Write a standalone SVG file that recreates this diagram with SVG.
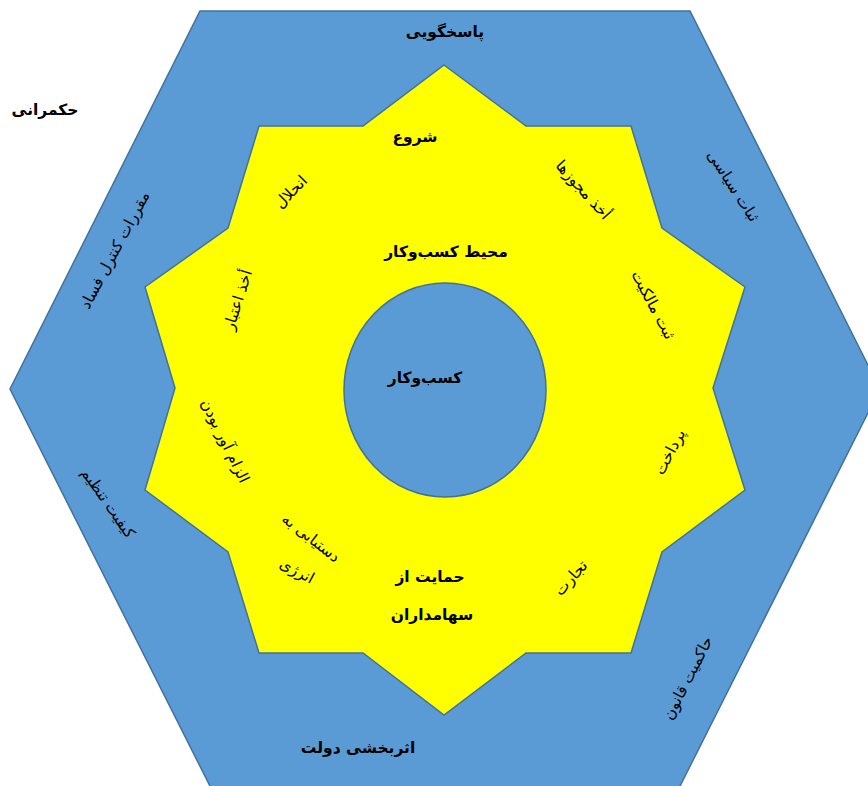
<svg xmlns="http://www.w3.org/2000/svg" width="868" height="786" viewBox="0 0 868 786">
<style>
.hex{fill:#5B9BD5;stroke:#41719C;stroke-width:1.5}
.star{fill:#FFFF00;stroke:#41719C;stroke-width:1.5}
.core{fill:#5B9BD5;stroke:#41719C;stroke-width:1.5}
text{font-family:"DejaVu Sans",sans-serif;fill:#000;text-anchor:middle;dominant-baseline:central}
.b{font-size:15.5px;font-weight:bold}
.r{font-size:15.5px}
</style>
<rect width="868" height="786" fill="#FFFFFF"/>
<g id="governance">
<polygon class="hex" points="200,11 690,11 880,389 673,800 217,800 10,389"/>
<text class="b" x="45" y="110">حکمرانی</text>
<text class="b" x="445" y="32">پاسخگویی</text>
<text class="r" transform="translate(733,186) rotate(57)">ثبات سیاسی</text>
<text class="r" transform="translate(688,678) rotate(-63)">حاکمیت قانون</text>
<text class="b" x="358" y="748">اثربخشی  دولت</text>
<text class="r" transform="translate(108,503) rotate(55)">کیفیت تنظیم</text>
<text class="r" transform="translate(115,250) rotate(-62)">مقررات کنترل فساد</text>
</g>
<g id="environment">
<polygon class="star" points="444,65 526,126 631,126 662,228 745,287 713,388 745,490 662,552 631,653 526,653 444,715 363,653 259,653 228,552 145,490 175,388 145,287 228,228 259,126 363,126"/>
<text class="b" x="446" y="252">محیط کسب‌وکار</text>
<text class="b" x="415" y="137">شروع</text>
<text class="r" transform="translate(583,190) rotate(48)">أخذ مجوزها</text>
<text class="r" transform="translate(653,305) rotate(62)">ثبت مالکیت</text>
<text class="r" transform="translate(670,452) rotate(-62)">پرداخت</text>
<text class="r" transform="translate(571,578) rotate(-48)">تجارت</text>
<text class="b" x="430" y="577">حمایت  از</text>
<text class="b" x="432" y="615">سهامداران</text>
<text class="r" transform="translate(311,538) rotate(38)">دستیابی به</text>
<text class="r" transform="translate(297,571) rotate(28)">انرژی</text>
<text class="r" transform="translate(225,441) rotate(64)">الزام آور بودن</text>
<text class="r" transform="translate(238,300) rotate(-72)">أخذ اعتبار</text>
<text class="r" transform="translate(291,192) rotate(-45)">انحلال</text>
</g>
<g id="business">
<ellipse class="core" cx="445" cy="390" rx="101" ry="107"/>
<text class="b" x="425" y="378">کسب‌وکار</text>
</g>
<g id="connectors"></g>
</svg>
